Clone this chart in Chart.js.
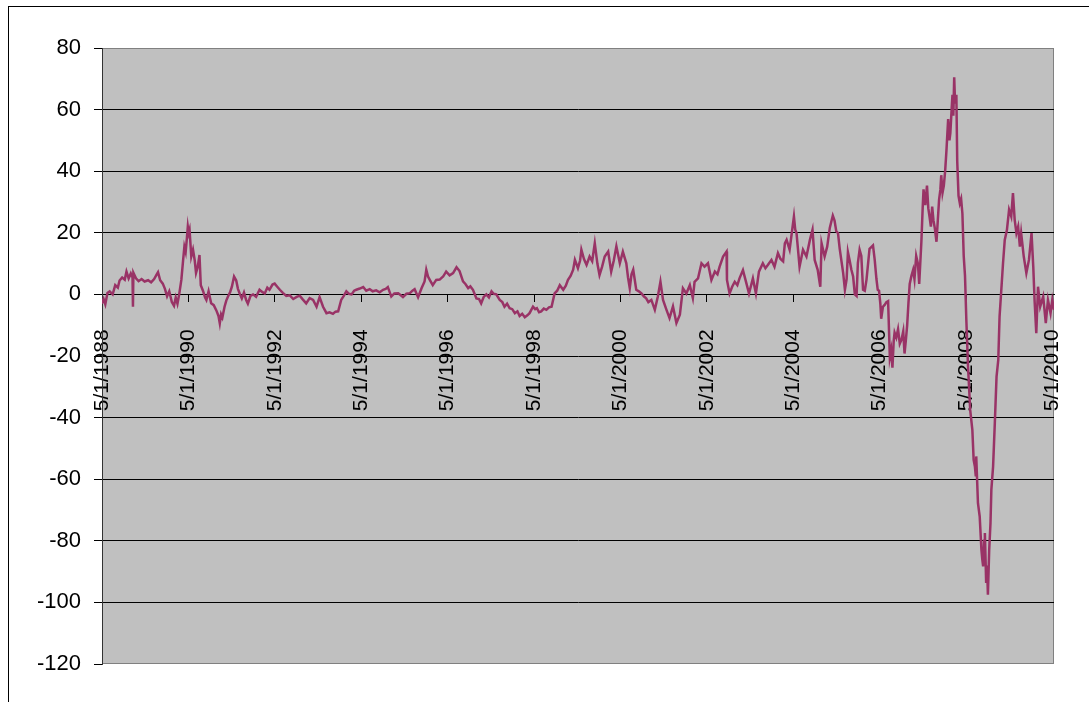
<!DOCTYPE html>
<html>
<head>
<meta charset="utf-8">
<script src="https://cdn.jsdelivr.net/npm/chart.js@4.4.0/dist/chart.umd.min.js"></script>
<style>
  html, body { margin: 0; padding: 0; background: #fff; }
  #wrap { position: relative; width: 1089px; height: 702px; overflow: hidden; }
  #frame { position: absolute; left: 8px; top: 6px; width: 1200px; height: 800px;
           border-top: 1px solid #000; border-left: 1px solid #000; }
  #chart { position: absolute; left: 0; top: 0; }
</style>
</head>
<body>
<div id="wrap">
  <div id="frame"></div>
  <canvas id="chart" width="1089" height="702"></canvas>
</div>
<script>
// x values are decimal years (5/1 = .333)
const years = [
  1988.33, 1988.37, 1988.41, 1988.46, 1988.51, 1988.58, 1988.64, 1988.70, 1988.74, 1988.80,
  1988.86, 1988.90, 1988.95, 1989.00, 1989.04, 1989.05, 1989.06, 1989.12, 1989.18, 1989.25,
  1989.32, 1989.40, 1989.47, 1989.54, 1989.60, 1989.63, 1989.68, 1989.74, 1989.79, 1989.84,
  1989.89, 1989.95, 1990.00, 1990.04, 1990.08, 1990.12, 1990.17, 1990.21, 1990.24, 1990.27,
  1990.30, 1990.32, 1990.34, 1990.36, 1990.40, 1990.44, 1990.48, 1990.51, 1990.55, 1990.59,
  1990.62, 1990.67, 1990.72, 1990.75, 1990.80, 1990.86, 1990.92, 1990.98, 1991.03, 1991.06,
  1991.09, 1991.12, 1991.17, 1991.21, 1991.25, 1991.30, 1991.34, 1991.39, 1991.44, 1991.48,
  1991.52, 1991.57, 1991.62, 1991.67, 1991.71, 1991.77, 1991.83, 1991.90, 1991.98, 1992.04,
  1992.10, 1992.16, 1992.21, 1992.28, 1992.33, 1992.39, 1992.45, 1992.52, 1992.60, 1992.68,
  1992.76, 1992.84, 1992.91, 1992.98, 1993.06, 1993.14, 1993.22, 1993.30, 1993.37, 1993.45,
  1993.53, 1993.60, 1993.68, 1993.74, 1993.80, 1993.87, 1993.93, 1993.99, 1994.05, 1994.11,
  1994.17, 1994.22, 1994.30, 1994.38, 1994.45, 1994.53, 1994.60, 1994.68, 1994.76, 1994.84,
  1994.90, 1994.95, 1995.03, 1995.10, 1995.19, 1995.25, 1995.30, 1995.38, 1995.46, 1995.52,
  1995.57, 1995.65, 1995.73, 1995.80, 1995.84, 1995.88, 1995.93, 1995.99, 1996.07, 1996.15,
  1996.23, 1996.30, 1996.38, 1996.46, 1996.54, 1996.61, 1996.69, 1996.75, 1996.81, 1996.86,
  1996.92, 1997.00, 1997.06, 1997.11, 1997.17, 1997.23, 1997.29, 1997.35, 1997.40, 1997.46,
  1997.54, 1997.60, 1997.65, 1997.71, 1997.77, 1997.83, 1997.89, 1997.95, 1998.00, 1998.06,
  1998.12, 1998.18, 1998.23, 1998.31, 1998.36, 1998.40, 1998.45, 1998.50, 1998.56, 1998.62,
  1998.68, 1998.74, 1998.81, 1998.87, 1998.93, 1999.01, 1999.07, 1999.12, 1999.18, 1999.24,
  1999.28, 1999.35, 1999.40, 1999.43, 1999.49, 1999.55, 1999.62, 1999.68, 1999.74, 1999.80,
  1999.85, 1999.91, 1999.97, 2000.05, 2000.12, 2000.18, 2000.24, 2000.32, 2000.39, 2000.47,
  2000.51, 2000.55, 2000.59, 2000.63, 2000.70, 2000.76, 2000.82, 2000.88, 2000.93, 2000.98,
  2001.05, 2001.13, 2001.20, 2001.26, 2001.32, 2001.40, 2001.47, 2001.55, 2001.63, 2001.71,
  2001.78, 2001.86, 2001.94, 2002.01, 2002.05, 2002.13, 2002.21, 2002.28, 2002.36, 2002.44,
  2002.52, 2002.58, 2002.63, 2002.71, 2002.79, 2002.80, 2002.86, 2002.92, 2002.98, 2003.04,
  2003.09, 2003.17, 2003.25, 2003.31, 2003.40, 2003.47, 2003.54, 2003.63, 2003.69, 2003.75,
  2003.83, 2003.90, 2003.98, 2004.04, 2004.10, 2004.14, 2004.18, 2004.25, 2004.29, 2004.35,
  2004.38, 2004.41, 2004.48, 2004.56, 2004.64, 2004.72, 2004.78, 2004.83, 2004.90, 2004.96,
  2004.99, 2005.06, 2005.12, 2005.18, 2005.25, 2005.29, 2005.33, 2005.37, 2005.41, 2005.49,
  2005.53, 2005.57, 2005.60, 2005.64, 2005.68, 2005.72, 2005.76, 2005.80, 2005.83, 2005.87,
  2005.91, 2005.95, 2005.99, 2006.03, 2006.10, 2006.18, 2006.22, 2006.26, 2006.29, 2006.32,
  2006.35, 2006.37, 2006.41, 2006.45, 2006.49, 2006.53, 2006.57, 2006.60, 2006.63, 2006.66,
  2006.68, 2006.72, 2006.76, 2006.80, 2006.84, 2006.88, 2006.91, 2006.94, 2006.97, 2007.00,
  2007.03, 2007.07, 2007.11, 2007.14, 2007.18, 2007.22, 2007.25, 2007.30, 2007.33, 2007.35,
  2007.39, 2007.43, 2007.46, 2007.49, 2007.52, 2007.55, 2007.58, 2007.61, 2007.65, 2007.68,
  2007.71, 2007.74, 2007.76, 2007.79, 2007.82, 2007.85, 2007.88, 2007.92, 2007.95, 2007.97,
  2008.00, 2008.02, 2008.04, 2008.06, 2008.08, 2008.11, 2008.13, 2008.16, 2008.19, 2008.22,
  2008.25, 2008.28, 2008.31, 2008.34, 2008.38, 2008.43, 2008.48, 2008.51, 2008.54, 2008.56,
  2008.57, 2008.61, 2008.65, 2008.69, 2008.71, 2008.73, 2008.75, 2008.77, 2008.80, 2008.82,
  2008.84, 2008.87, 2008.90, 2008.92, 2008.96, 2009.00, 2009.04, 2009.08, 2009.11, 2009.15,
  2009.19, 2009.23, 2009.28, 2009.33, 2009.38, 2009.42, 2009.46, 2009.50, 2009.54, 2009.58,
  2009.61, 2009.67, 2009.73, 2009.79, 2009.85, 2009.89, 2009.92, 2009.96, 2010.00, 2010.05,
  2010.12, 2010.18, 2010.23, 2010.29, 2010.33, 2010.37
];

const values = [
  -3, -1.5, -3.2, 0.5, 1, 0, 3, 2.2, 4.5, 5.5,
  4.8, 7.4, 5.2, 6.8, 5.5, -4, 7, 5.2, 4.3, 5,
  4.2, 4.6, 3.9, 5, 6.5, 7.2, 4.6, 3.5, 1.8, -0.6,
  1, -2.5, -3.7, -1, -3, 0, 4.7, 11, 15.5, 13.8,
  18.5, 22, 20, 21, 12.3, 14.5, 11, 7, 9, 12.8,
  3, 1.2, -1, -1.8, 1, -2.9, -3.5, -5.2, -7, -9.4,
  -6.5, -7.5, -4, -2, -0.7, 0.8, 2.5, 5.8, 4.5, 1.8,
  0.3, -1.3, 0.6, -1.8, -3, -0.5, 0, -0.8, 1.5, 0.8,
  0.3, 2.2, 1.5, 3.2, 3.5, 2.5, 1.5, 0.5, -0.5, -0.3,
  -1.5, -0.8, -0.4, -1.6, -2.9, -1.2, -1.8, -4, -0.9, -4,
  -6.1, -5.8, -6.3, -5.6, -5.5, -1.8, -0.5, 1, 0.2, 0,
  1.2, 1.5, 1.9, 2.4, 1.2, 1.7, 1, 1.3, 0.7, 1.5,
  1.8, 2.4, -0.7, 0.3, 0.4, -0.3, -0.9, 0.2, 0.4, 1.2,
  1.7, -0.9, 2, 4.2, 8, 5.8, 4.5, 3, 4.7, 4.8,
  5.8, 7.4, 6.2, 6.9, 8.8, 7.6, 4.2, 3.3, 2, 2.6,
  1.5, -1.3, -1.5, -2.9, -0.8, 0, -1, 1, 0.2, 0,
  -1.8, -2.5, -4, -3, -4.5, -4.8, -6.1, -5.5, -7, -6.3,
  -7.4, -6.8, -6.1, -4, -4.8, -4.5, -5.8, -5.5, -4.6, -5,
  -4.2, -4, 0.3, 1.2, 3, 1.5, 2.8, 4.7, 6, 8,
  11.2, 8.5, 11, 14.5, 11.5, 9.6, 12.3, 10.8, 16.6, 10,
  6.3, 9, 12.3, 13.9, 7.4, 11, 15.6, 10.1, 13.9, 10.1,
  5.5, 2, 6.5, 8, 1.5, 1, 0.3, -0.7, -1.3, -2.5,
  -1.8, -5, -0.7, 4.1, -1.8, -5, -7.7, -3.9, -9.3, -6.6,
  2, 0.3, 3, -1.2, 4.1, 5.2, 10.1, 9, 10.1, 4.7,
  7.4, 6.5, 9, 12.3, 13.9, 4.7, 0.3, 2.5, 4.1, 3,
  5.2, 7.9, 3.6, 0.3, 5.2, 0.3, 7.4, 10.1, 8.5, 9.6,
  11.2, 9, 13.4, 11.5, 10.7, 16.6, 17.7, 14.5, 18.8, 25.3,
  21, 19.9, 9, 14.5, 12.3, 17.7, 21, 11.2, 8, 2.5,
  16.6, 12.3, 15.5, 21.6, 25.6, 24, 20.5, 19.9, 14.8, 6.9,
  1.5, 5, 13.7, 11, 8, 5.8, 0, -0.5, 10.2, 14.5,
  12.5, 1.5, 1.2, 4.8, 14.8, 15.9, 11.2, 5, 1.5, 1.2,
  -3, -7.9, -4, -3.4, -2.5, -2.2, -20.4, -18, -23.8, -15,
  -12.4, -14, -11.3, -16, -14.7, -12, -19.2, -15, -10.2, -3,
  3.4, 6, 8, 5, 12.5, 10, 3.4, 17.1, 28, 34.1,
  29, 35.3, 28, 25.1, 22, 28.5, 24, 21.6, 17.1, 24,
  30.8, 34, 38.7, 33, 35.3, 40, 46.6, 56.9, 50, 52.3,
  60, 64.8, 58, 70.5, 62, 64.8, 43.2, 32, 29.6, 31,
  26.2, 12.5, 6, -8, -23.4, -37.5, -44, -53.7, -56, -59.1,
  -52.6, -67.8, -72.1, -82.9, -86, -88.3, -80, -77.5, -93.7, -88,
  -97.5, -82.9, -74.2, -63.4, -55.9, -41.8, -26.7, -21.3, -7.2, 1.4,
  10.1, 17.7, 20.9, 27.5, 25.3, 32.9, 24.2, 19.9, 22, 15.5,
  19.9, 12.3, 6.9, 11.2, 19.9, 9, -1.8, -12.6, 2.5, -4,
  -0.7, -9.3, -1.8, -6.1, -1.8, -5
];

const tickLabels = ['5/1/1988', '5/1/1990', '5/1/1992', '5/1/1994', '5/1/1996', '5/1/1998',
                    '5/1/2000', '5/1/2002', '5/1/2004', '5/1/2006', '5/1/2008', '5/1/2010'];
const yTicks = [80, 60, 40, 20, 0, -20, -40, -60, -80, -100, -120];

// label "5/1/YYYY" -> decimal year
const tickPos = tickLabels.map(s => {
    const p = s.split('/');
    return +p[2] + (p[0] - 1) / 12 + (p[1] - 1) / 365;
});

const FAMILY = '"Liberation Sans", Arial, sans-serif';

const plotBg = {
    id: 'plotBg',
    beforeDraw(chart) {
        const { ctx, chartArea: a } = chart;
        ctx.save();
        ctx.fillStyle = '#c0c0c0';
        ctx.fillRect(a.left, a.top, a.width, a.height);
        ctx.strokeStyle = '#808080';
        ctx.lineWidth = 1;
        ctx.strokeRect(a.left + 0.5, a.top + 0.5, a.width - 1, a.height - 1);
        ctx.restore();
    }
};

new Chart(document.getElementById('chart'), {
    type: 'line',
    data: {
        datasets: [{
            data: years.map((x, i) => ({ x: x, y: values[i] })),
            borderColor: '#993366',
            borderWidth: 2.5,
            pointRadius: 0,
            tension: 0
        }]
    },
    options: {
        responsive: false,
        animation: false,
        layout: { padding: { left: 0, top: 48, right: 35, bottom: 38 } },
        plugins: { legend: { display: false }, tooltip: { enabled: false } },
        scales: {
            x: {
                type: 'linear',
                min: tickPos[0],
                max: years[years.length - 1],
                position: { y: 0 },
                afterBuildTicks: s => { s.ticks = tickPos.map(v => ({ value: v })); },
                // rotated labels should not push the plot edges in
                afterFit: s => { s.paddingLeft = 0; s.paddingRight = 0; },
                ticks: {
                    autoSkip: false,
                    minRotation: 90,
                    maxRotation: 90,
                    padding: 28,
                    color: '#000',
                    font: { family: FAMILY, size: 21 },
                    callback: (v, i) => tickLabels[i]
                },
                grid: { drawOnChartArea: false, tickLength: 7, color: '#000' },
                border: { display: true, color: '#000', width: 1 }
            },
            y: {
                min: yTicks[yTicks.length - 1],
                max: yTicks[0],
                afterFit: s => { s.width = 102; },
                ticks: { stepSize: 20, color: '#000', font: { family: FAMILY, size: 22 }, padding: 13 },
                grid: {
                    color: c => (c.tick && (c.tick.value === 80 || c.tick.value === -120)) ? 'rgba(0,0,0,0)' : '#000',
                    tickColor: '#000',
                    tickLength: 8
                },
                border: { display: true, color: '#333', width: 1 }
            }
        }
    },
    plugins: [plotBg]
});
</script>
</body>
</html>
